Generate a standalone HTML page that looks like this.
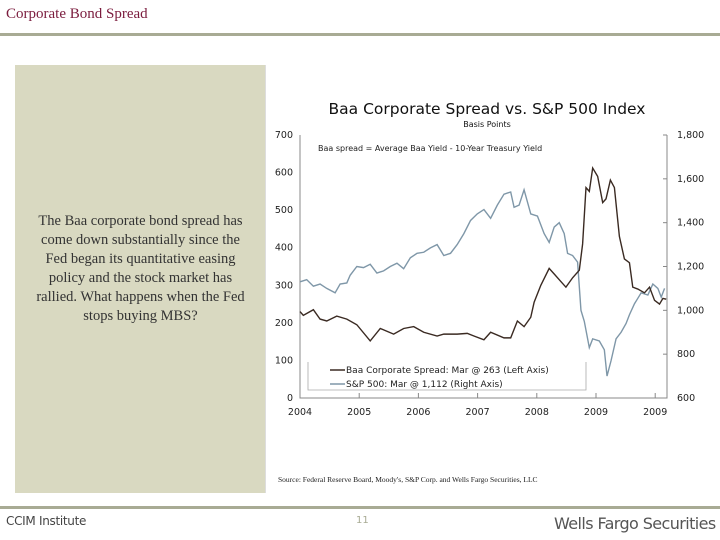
<!DOCTYPE html>
<html><head><meta charset="utf-8"><style>
body{margin:0;width:720px;height:540px;background:#fff;position:relative;overflow:hidden;font-family:"Liberation Serif",serif}
.abs{position:absolute}
</style></head><body>
<div class="abs" style="left:6px;top:6px;font-size:15px;color:#7b1c3e">Corporate Bond Spread</div>
<div class="abs" style="left:0;top:33px;width:720px;height:3px;background:#a8ab94"></div>
<div class="abs" style="left:15px;top:65px;width:251px;height:428px;background:#d9d9c1"></div>
<div class="abs" style="left:30px;top:212px;width:221px;text-align:center;font-size:14.5px;line-height:19px;color:#333">The Baa corporate bond spread has come down substantially since the Fed began its quantitative easing policy and the stock market has rallied. What happens when the Fed stops buying MBS?</div>
<div class="abs" style="left:265px;top:65px;width:0;height:428px;border-left:1px solid #ddd"></div>
<svg class="abs" style="left:0;top:0" width="720" height="540" font-family="DejaVu Sans, sans-serif">
<g id="g"></g>
</svg>
<div class="abs" style="left:278px;top:475px;font-size:7.5px;color:#222">Source: Federal Reserve Board, Moody's, S&amp;P Corp. and Wells Fargo Securities, LLC</div>
<div class="abs" style="left:0;top:506px;width:720px;height:3px;background:#a8ab94"></div>
<div class="abs" style="left:6px;top:514px;font-size:12px;color:#444;font-family:'DejaVu Sans',sans-serif;letter-spacing:-0.3px">CCIM Institute</div>
<div class="abs" style="left:356px;top:515px;font-size:10px;color:#a8ab94;font-family:'DejaVu Sans',sans-serif">11</div>
<div class="abs" style="left:554px;top:514px;font-size:16px;color:#555;font-family:'DejaVu Sans',sans-serif;letter-spacing:-0.6px">Wells Fargo Securities</div>
<script>
const spreadYears=[0,.056,.226,.339,.452,.621,.791,.960,1.186,1.356,1.582,1.751,1.921,2.090,2.316,2.429,2.655,2.825,2.938,3.107,3.220,3.446,3.559,3.672,3.785,3.898,3.955,4.068,4.209,4.294,4.407,4.492,4.605,4.718,4.774,4.831,4.887,4.944,5.028,5.113,5.169,5.243,5.311,5.395,5.480,5.565,5.621,5.706,5.819,5.904,5.989,6.073,6.130,6.186];
const spreadValues=[230,220,235,210,205,218,210,195,152,185,170,185,190,175,165,170,170,172,165,155,175,160,160,205,190,215,255,300,345,330,310,295,320,340,410,560,550,612,590,520,530,580,560,430,370,360,295,290,280,295,260,250,265,263];
const spYears=[0,.113,.226,.339,.452,.593,.678,.791,.847,.960,1.073,1.186,1.299,1.412,1.525,1.638,1.751,1.864,1.977,2.090,2.203,2.316,2.429,2.542,2.655,2.768,2.881,2.994,3.107,3.220,3.333,3.446,3.559,3.616,3.701,3.785,3.898,4.011,4.124,4.209,4.294,4.379,4.463,4.520,4.605,4.689,4.746,4.802,4.887,4.944,5.056,5.141,5.186,5.254,5.339,5.424,5.508,5.565,5.650,5.763,5.876,5.960,6.045,6.102,6.158];
const spValues=[1130,1140,1110,1120,1100,1080,1120,1125,1160,1200,1195,1210,1170,1180,1200,1215,1190,1240,1260,1265,1285,1300,1250,1260,1300,1350,1410,1440,1460,1420,1480,1530,1540,1470,1480,1550,1440,1430,1350,1310,1380,1400,1350,1260,1250,1220,1000,950,830,870,860,820,700,770,870,900,940,980,1030,1080,1070,1120,1100,1060,1100];
const leftTicks=[0,100,200,300,400,500,600,700];
const rightTicks=[600,800,1000,1200,1400,1600,1800];
const xTickLabels=["2004","2005","2006","2007","2008","2009","2009"];
const X0=300,YR=59.2,YB=398,YT=135;
const x=t=>X0+t*YR;
const yL=v=>YB-(v/700)*(YB-YT);
const yR=v=>YB-((v-600)/1200)*(YB-YT);
const g=document.getElementById('g');const NS='http://www.w3.org/2000/svg';
function el(tag,a,txt){const e=document.createElementNS(NS,tag);for(const k in a)e.setAttribute(k,a[k]);if(txt!=null)e.textContent=txt;g.appendChild(e);return e;}
let e;
e=el('text',{x:487,y:114,'text-anchor':'middle','font-size':15.5,fill:'#111'},'Baa Corporate Spread vs. S&P 500 Index');


e=el('text',{x:487,y:127,'text-anchor':'middle','font-size':8,fill:'#111'},'Basis Points');


e=el('path',{d:`M${X0},${YT}V${YB}H667V${YT}`,fill:'none',stroke:'#888','stroke-width':1});


leftTicks.forEach(v=>{e=el('text',{x:293,y:yL(v)+3,'text-anchor':'end','font-size':9.5,fill:'#222'},v);

});
rightTicks.forEach(v=>{el('line',{x1:663,x2:667,y1:yR(v),y2:yR(v),stroke:'#888'});
e=el('text',{x:677,y:yR(v)+3,'font-size':9.5,fill:'#222'},v.toLocaleString('en-US'));

});
xTickLabels.forEach((l,i)=>{el('line',{x1:x(i),x2:x(i),y1:YB,y2:YB-5,stroke:'#888'});
e=el('text',{x:x(i),y:YB+17,'text-anchor':'middle','font-size':9.5,fill:'#222'},l);

});
e=el('text',{x:318,y:151,'font-size':8,fill:'#222'},'Baa spread = Average Baa Yield - 10-Year Treasury Yield');


e=el('polyline',{points:spValues.map((v,i)=>x(spYears[i])+','+yR(v)).join(' '),fill:'none',stroke:'#7f97a8','stroke-width':1.4});


e=el('polyline',{points:spreadValues.map((v,i)=>x(spreadYears[i])+','+yL(v)).join(' '),fill:'none',stroke:'#3a2a22','stroke-width':1.4});


e=el('path',{d:'M308,362V390H586V362',fill:'none',stroke:'#aaa','stroke-width':0.8});


el('line',{x1:330,x2:345,y1:370,y2:370,stroke:'#3a2a22','stroke-width':1.5});
e=el('text',{x:346,y:373,'font-size':9,fill:'#222'},'Baa Corporate Spread: Mar @ 263 (Left Axis)');


el('line',{x1:330,x2:345,y1:384,y2:384,stroke:'#7f97a8','stroke-width':1.5});
e=el('text',{x:346,y:387,'font-size':9,fill:'#222'},'S&P 500: Mar @ 1,112 (Right Axis)');


</script>
</body></html>
